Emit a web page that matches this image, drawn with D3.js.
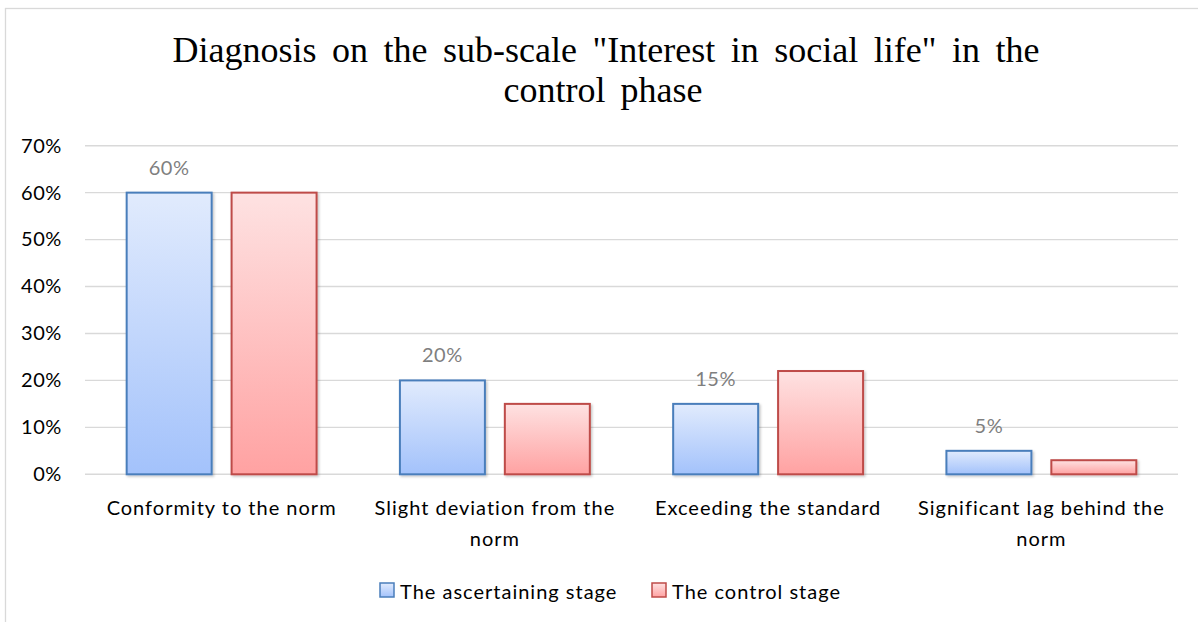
<!DOCTYPE html>
<html>
<head>
<meta charset="utf-8">
<script src="https://cdnjs.cloudflare.com/ajax/libs/d3/7.8.5/d3.min.js"></script>
<style>
  html, body { margin: 0; padding: 0; background: #fff; }
  svg { display: block; }
</style>
</head>
<body>
<div id="main"></div>
<script>
// chart data
const categories = [
  'Conformity to the norm',
  'Slight deviation from the norm',
  'Exceeding the standard',
  'Significant lag behind the norm'
];
// tick label lines, as the picture wraps them
const categoryLines = [
  ['Conformity to the norm'],
  ['Slight deviation from the', 'norm'],
  ['Exceeding the standard'],
  ['Significant lag behind the', 'norm']
];
const seriesNames = ['The ascertaining stage', 'The control stage'];
const ascertaining = [0.60, 0.20, 0.15, 0.05];
const control = [0.60, 0.15, 0.22, 0.03];
const yTicks = [0, 0.1, 0.2, 0.3, 0.4, 0.5, 0.6, 0.7];
const titleLines = ['Diagnosis on the sub-scale "Interest in social life" in the', 'control phase'];

function main() {
  const width = 1198;
  const height = 622;
  const plot = { left: 85, right: 1178, top: 145.7, bottom: 474.3 };
  const labelFont = 'Lato, "Open Sans", sans-serif';
  const labelSize = 20;
  const labelSpacing = 1; // letter spacing to mimic the wider original face

  const svg = d3.select('#main')
    .append('svg')
    .attr('width', width)
    .attr('height', height);

  const defs = svg.append('defs');
  // vertical gradients for the two series
  const grads = [
    { id: 'gradBlue', top: '#e1ebfd', bottom: '#a3c2fb' },
    { id: 'gradRed', top: '#fee2e2', bottom: '#ffa2a2' }
  ];
  grads.forEach(g => {
    const lg = defs.append('linearGradient')
      .attr('id', g.id)
      .attr('x1', 0).attr('y1', 0).attr('x2', 0).attr('y2', 1);
    lg.append('stop').attr('offset', '0%').attr('stop-color', g.top);
    lg.append('stop').attr('offset', '100%').attr('stop-color', g.bottom);
  });
  // soft shadow under bars
  const filter = defs.append('filter')
    .attr('id', 'shadow')
    .attr('x', '-10%').attr('y', '-10%').attr('width', '130%').attr('height', '130%');
  filter.append('feDropShadow')
    .attr('dx', 1.5).attr('dy', 1.5).attr('stdDeviation', 1.2)
    .attr('flood-color', '#000').attr('flood-opacity', 0.22);

  // chart border (only left and top visible in the picture)
  svg.append('rect')
    .attr('x', 5.5).attr('y', 8.5)
    .attr('width', 1210).attr('height', 630)
    .attr('fill', '#fff')
    .attr('stroke', '#d9d9d9')
    .attr('stroke-width', 1.3);

  // title, spread out word-wise like the original
  const title = svg.append('text')
    .attr('text-anchor', 'middle')
    .attr('font-family', '"Liberation Serif", "Times New Roman", serif')
    .attr('font-size', 36)
    .attr('fill', '#000');
  const t1 = title.append('tspan').attr('x', 606).attr('y', 62).text(titleLines[0]);
  title.append('tspan').attr('x', 603).attr('y', 102).attr('word-spacing', 6).text(titleLines[1]);
  const gaps1 = (titleLines[0].match(/ /g) || []).length;
  const extra1 = Math.max(0, (867 - t1.node().getComputedTextLength()) / gaps1);
  t1.attr('word-spacing', extra1);

  // scales
  const x0 = d3.scaleBand()
    .domain(categories)
    .range([plot.left, plot.right])
    .paddingInner(0.305)
    .paddingOuter(0.1525);
  const x1 = d3.scaleBand()
    .domain(seriesNames)
    .range([0, x0.bandwidth()])
    .paddingInner(0.19);
  const y = d3.scaleLinear()
    .domain([0, 0.7])
    .range([plot.bottom, plot.top]);

  // gridlines
  svg.append('g')
    .selectAll('line')
    .data(yTicks)
    .enter()
    .append('line')
    .attr('x1', plot.left)
    .attr('x2', plot.right)
    .attr('y1', d => y(d))
    .attr('y2', d => y(d))
    .attr('stroke', '#d9d9d9')
    .attr('stroke-width', 1.4);

  // y axis labels
  const yAxis = svg.append('g')
    .attr('transform', `translate(${plot.left - 23},0)`)
    .call(d3.axisLeft(y).tickValues(yTicks).tickFormat(d3.format('.0%')).tickSize(0).tickPadding(0));
  yAxis.select('.domain').remove();
  yAxis.selectAll('text')
    .attr('font-family', labelFont)
    .attr('font-size', labelSize)
    .attr('letter-spacing', 0.6)
    .attr('fill', '#000');

  // bars
  const series = [
    { name: seriesNames[0], values: ascertaining, fill: 'url(#gradBlue)', stroke: '#4a7ebb', labels: true },
    { name: seriesNames[1], values: control, fill: 'url(#gradRed)', stroke: '#be4b48', labels: false }
  ];
  series.forEach(s => {
    const g = svg.append('g');
    g.selectAll('rect')
      .data(categories)
      .enter()
      .append('rect')
      .attr('x', c => x0(c) + x1(s.name))
      .attr('y', (c, i) => y(s.values[i]))
      .attr('width', x1.bandwidth())
      .attr('height', (c, i) => y(0) - y(s.values[i]))
      .attr('fill', s.fill)
      .attr('stroke', s.stroke)
      .attr('stroke-width', 2)
      .attr('filter', 'url(#shadow)');
    if (s.labels) {
      g.selectAll('text')
        .data(categories)
        .enter()
        .append('text')
        .attr('x', c => x0(c) + x1(s.name) + x1.bandwidth() / 2)
        .attr('y', (c, i) => y(s.values[i]) - 18)
        .attr('text-anchor', 'middle')
        .attr('font-family', labelFont)
        .attr('font-size', labelSize)
        .attr('letter-spacing', 0.6)
        .attr('fill', '#7f7f7f')
        .text((c, i) => d3.format('.0%')(s.values[i]));
    }
  });

  // category labels
  const xAxis = svg.append('g');
  categories.forEach((c, i) => {
    const t = xAxis.append('text')
      .attr('text-anchor', 'middle')
      .attr('font-family', labelFont)
      .attr('font-size', labelSize)
      .attr('letter-spacing', labelSpacing)
      .attr('fill', '#000');
    categoryLines[i].forEach((line, j) => {
      t.append('tspan')
        .attr('x', x0(c) + x0.bandwidth() / 2)
        .attr('y', 515 + j * 31)
        .text(line);
    });
  });

  // legend
  const legend = svg.append('g');
  const legendX = [380, 652];
  series.forEach((s, i) => {
    legend.append('rect')
      .attr('x', legendX[i]).attr('y', 583)
      .attr('width', 14).attr('height', 14)
      .attr('fill', s.fill)
      .attr('stroke', s.stroke)
      .attr('stroke-width', 1.5);
    legend.append('text')
      .attr('x', legendX[i] + 20)
      .attr('y', 599)
      .attr('font-family', labelFont)
      .attr('font-size', labelSize)
      .attr('letter-spacing', labelSpacing)
      .attr('fill', '#000')
      .text(s.name);
  });
}

document.addEventListener('DOMContentLoaded', main);
</script>
</body>
</html>
